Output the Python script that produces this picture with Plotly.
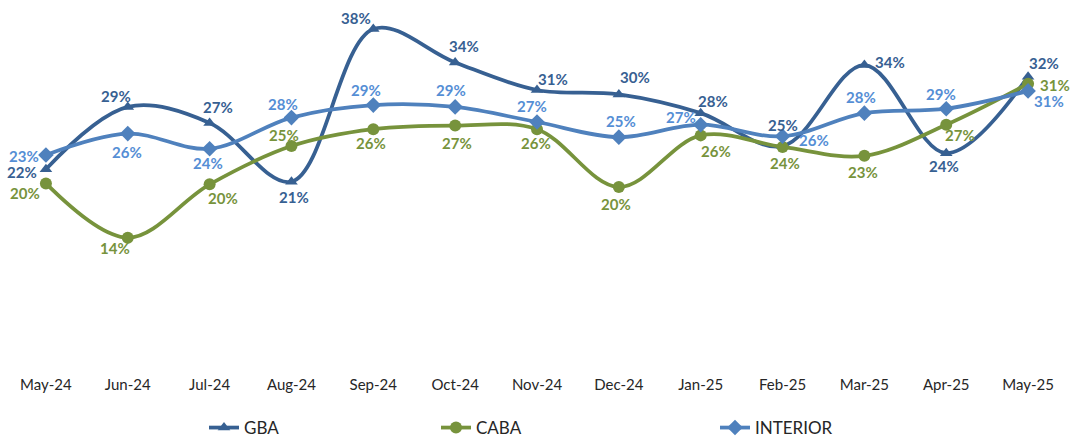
import plotly.graph_objects as go

months = ["May-24", "Jun-24", "Jul-24", "Aug-24", "Sep-24", "Oct-24", "Nov-24",
          "Dec-24", "Jan-25", "Feb-25", "Mar-25", "Apr-25", "May-25"]

gba = [22.0, 29.0, 27.2, 20.6, 37.75, 34.0, 30.9, 30.4, 28.3, 24.6, 33.7, 23.8, 32.4]
caba = [20.4, 14.3, 20.3, 24.6, 26.5, 26.9, 26.5, 20.0, 25.8, 24.5, 23.5, 27.0, 31.6]
interior = [23.6, 26.0, 24.3, 27.8, 29.2, 29.0, 27.3, 25.6, 27.0, 25.7, 28.3, 28.8, 30.8]

gba_labels = ["22%", "29%", "27%", "21%", "38%", "34%", "31%", "30%", "28%", "25%", "34%", "24%", "32%"]
caba_labels = ["20%", "14%", "20%", "25%", "26%", "27%", "26%", "20%", "26%", "24%", "23%", "27%", "31%"]
interior_labels = ["23%", "26%", "24%", "28%", "29%", "29%", "27%", "25%", "27%", "26%", "28%", "29%", "31%"]

# label offsets in pixels (dx, dy with dy positive downward)
gba_off = [(-24, 3), (-12, -11), (8, -16), (3, 15), (-17, -11), (9, -16), (16, -11),
           (16, -17), (12, -12), (0, -21), (26, -3), (-2, 13), (16, -14)]
caba_off = [(-21, 10), (-13, 10), (13, 14), (-7, -11), (-2, 14), (2, 17), (-1, 14),
            (-3, 17), (15, 16), (2, 16), (-1, 16), (14, 10), (27, 1)]
interior_off = [(-22, 1), (-1, 18), (-2, 14), (-8, -14), (-7, -15), (-4, -17), (-5, -16),
                (2, -16), (-20, -8), (31, 4), (-3, -16), (-5, -15), (21, 10)]

C_GBA = "#376092"
C_CABA = "#77933C"
C_INT = "#4F81BD"
C_INT_TXT = "#558ED5"

FONT = "Lato"

fig = go.Figure()
series = [
    ("GBA", gba, gba_labels, gba_off, C_GBA, C_GBA, "triangle-up", 11, "legend"),
    ("CABA", caba, caba_labels, caba_off, C_CABA, C_CABA, "circle", 12, "legend2"),
    ("INTERIOR", interior, interior_labels, interior_off, C_INT, C_INT_TXT, "diamond", 12, "legend3"),
]
annotations = []
for name, vals, labels, offs, col, tcol, sym, msize, leg in series:
    fig.add_trace(go.Scatter(
        x=months, y=vals, name=name, mode="lines+markers",
        line=dict(color=col, width=3.75, shape="spline", smoothing=1.0),
        marker=dict(symbol=sym, size=msize, color=col),
        legend=leg,
    ))
    for m, v, lab, (dx, dy) in zip(months, vals, labels, offs):
        annotations.append(dict(
            x=m, y=v, xref="x", yref="y", text=f"<b>{lab}</b>", showarrow=False,
            xshift=dx, yshift=-dy, font=dict(family=FONT, size=15, color=tcol),
        ))

leg_common = dict(orientation="h", yanchor="middle", y=-0.177, xanchor="left",
                  font=dict(family=FONT, size=17, color="#262626"),
                  bgcolor="rgba(0,0,0,0)", itemwidth=30)

fig.update_layout(
    width=1076, height=439,
    margin=dict(l=5, r=7, t=9, b=74, autoexpand=False),
    paper_bgcolor="white", plot_bgcolor="white",
    showlegend=True,
    legend=dict(x=(204 - 5) / 1064, **leg_common),
    legend2=dict(x=(436 - 5) / 1064, **leg_common),
    legend3=dict(x=(715 - 5) / 1064, **leg_common),
    annotations=annotations,
    xaxis=dict(type="category", range=[-0.5, 12.5], showgrid=False, showline=False,
               zeroline=False, ticks="outside", ticklen=6, tickcolor="rgba(0,0,0,0)",
               automargin=False,
               tickfont=dict(family=FONT, size=15, color="#262626")),
    yaxis=dict(range=[0, 40], visible=False, showgrid=False, zeroline=False),
)

fig.write_html("out.html")
